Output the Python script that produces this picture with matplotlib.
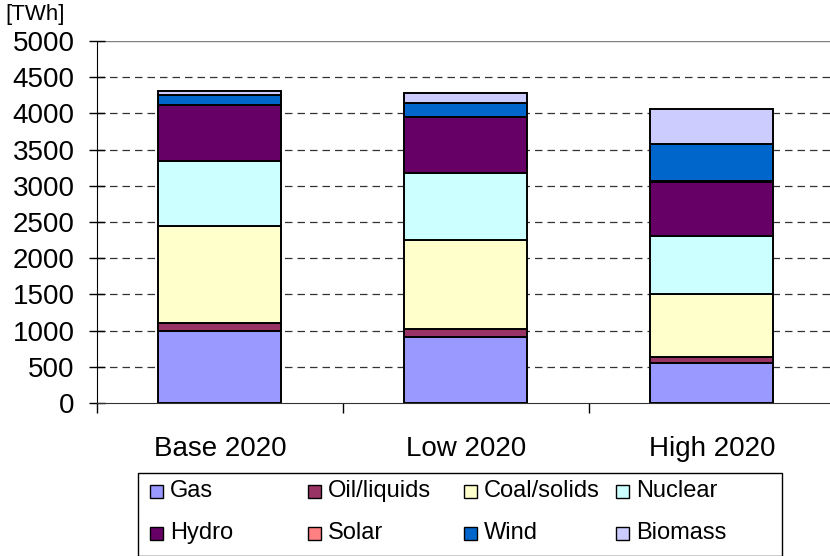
import matplotlib
matplotlib.use("Agg")
import matplotlib.pyplot as plt
from matplotlib.patches import Rectangle

scenarios = ["Base 2020", "Low 2020", "High 2020"]
sources = ["Gas", "Oil/liquids", "Coal/solids", "Nuclear", "Hydro", "Solar", "Wind", "Biomass"]
gas = [1000, 910, 555]
oil = [110, 110, 85]
coal = [1335, 1225, 860]
nuclear = [900, 930, 805]
hydro = [770, 770, 745]
solar = [5, 10, 10]
wind = [135, 185, 520]
biomass = [55, 140, 480]
colors = ["#9999FF", "#993366", "#FFFFCC", "#CCFFFF", "#660066", "#FF8080", "#0066CC", "#CCCCFF"]

series = [gas, oil, coal, nuclear, hydro, solar, wind, biomass]

plt.rcParams['font.family'] = ['Liberation Sans', 'DejaVu Sans']

W, H = 830, 556
fig = plt.figure(figsize=(W / 100, H / 100), dpi=100)
ax = fig.add_axes([97 / W, (H - 403) / H, (W - 97) / W, (403 - 41) / H])

x = list(range(len(scenarios)))
bottom = [0] * len(scenarios)
for vals, col in zip(series, colors):
    ax.bar(x, vals, 0.5, bottom=bottom, color=col, edgecolor="black", linewidth=1.4, zorder=3)
    bottom = [b + v for b, v in zip(bottom, vals)]

ax.set_xlim(-0.5, 2.48)
ax.set_ylim(0, 5000)
ax.set_yticks(range(0, 5001, 500))
ax.set_xticks(x)
ax.set_xticklabels(scenarios)
ax.set_xticks([-0.5, 0.5, 1.5], minor=True)
ax.tick_params(axis="x", which="major", length=0, pad=24, labelsize=20)
ax.tick_params(axis="x", which="minor", direction="out", length=7, width=1)
ax.tick_params(axis="y", direction="inout", length=12, width=1, pad=10, labelsize=20)

for v in range(500, 5000, 500):
    ax.axhline(v, color="#333333", lw=0.9, ls=(0, (6, 4)), zorder=1)
ax.axhline(5000, color="#808080", lw=1.0, zorder=1)

ax.spines["right"].set_visible(False)
ax.spines["top"].set_visible(False)
ax.spines["left"].set_color("black")
ax.spines["bottom"].set_color("#333333")

fig.text(5 / W, 1 - 4 / H, "[TWh]", fontsize=16, va="top", ha="left")

# legend box laid out like the original (fixed column widths)
def fx(px):
    return px / W

def fy(py):
    return 1 - py / H

fig.add_artist(Rectangle((fx(138), fy(556)), fx(782) - fx(138), fy(473) - fy(556),
                         transform=fig.transFigure, fill=False, edgecolor="black", lw=1))
mark_x = [150, 308, 464, 616]
row_y = [491, 533]
for i, (name, col) in enumerate(zip(sources, colors)):
    cx = mark_x[i % 4]
    cy = row_y[i // 4]
    fig.add_artist(Rectangle((fx(cx), fy(cy + 7)), fx(13), 13 / H, transform=fig.transFigure,
                             facecolor=col, edgecolor="black", lw=1))
    fig.text(fx(cx + 20), fy(cy), name, fontsize=17, va="center", ha="left")

fig.savefig("out.png", dpi=100)
